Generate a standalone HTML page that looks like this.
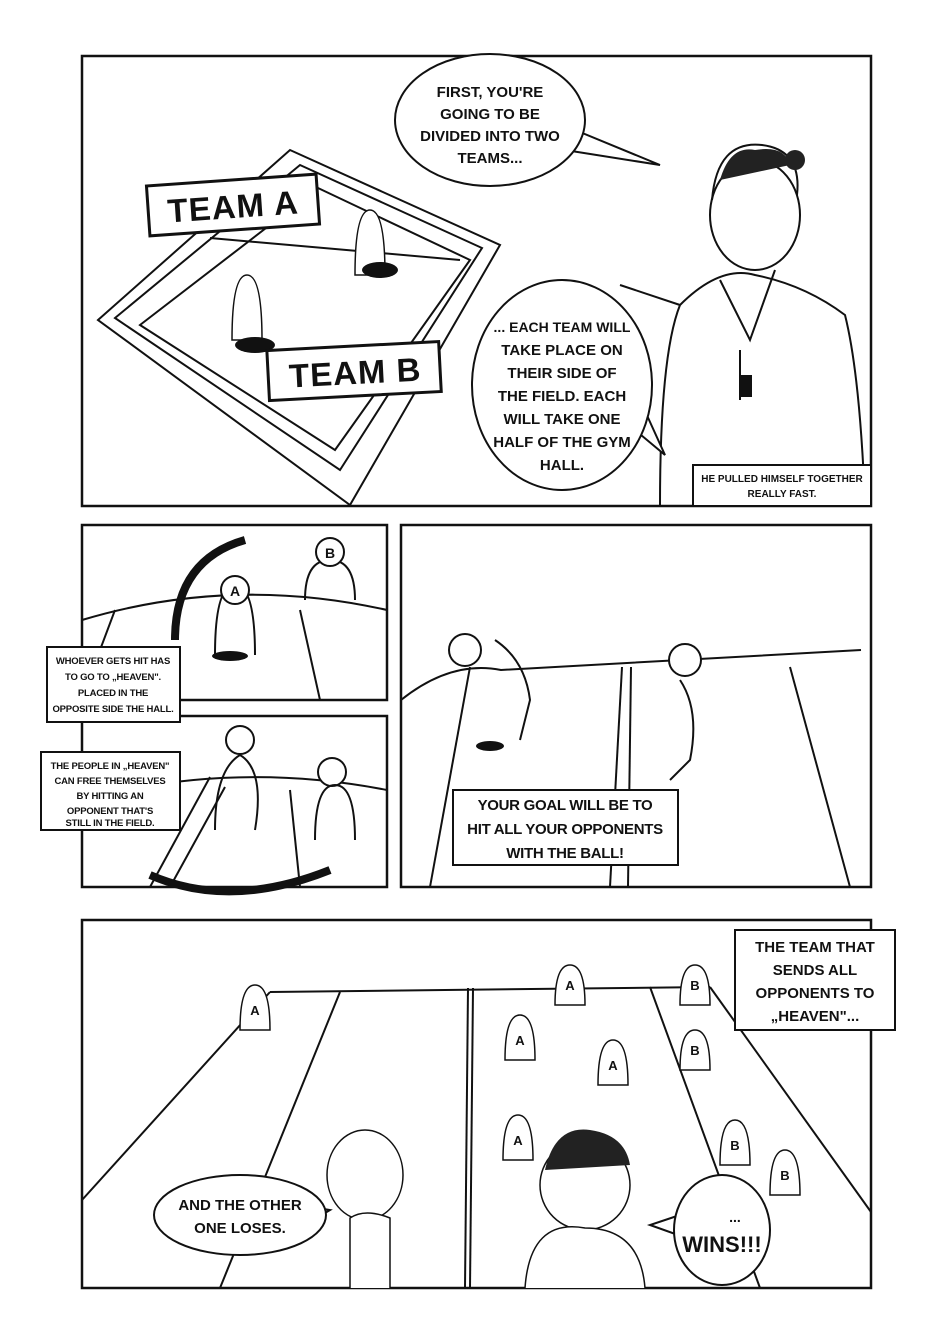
<!DOCTYPE html>
<html><head><meta charset="utf-8"><style>
html,body{margin:0;padding:0;background:#fff}
svg{display:block}
text{font-family:"Liberation Sans",sans-serif;font-weight:bold;fill:#111}
</style></head><body>
<svg width="940" height="1330" viewBox="0 0 940 1330" xmlns="http://www.w3.org/2000/svg">
<rect width="940" height="1330" fill="#fff"/>
<g fill="none" stroke="#111" stroke-width="2.5">
<rect x="82" y="56" width="789" height="450"/>
<rect x="82" y="525" width="305" height="175"/>
<rect x="82" y="716" width="305" height="171"/>
<rect x="401" y="525" width="470" height="362"/>
<rect x="82" y="920" width="789" height="368"/>
</g>
<!-- Panel 1 court -->
<g fill="none" stroke="#111" stroke-width="2">
<polygon points="98,320 290,150 500,245 350,505"/>
<polygon points="115,318 300,165 482,248 340,470"/>
<polygon points="140,325 318,188 470,260 335,450"/>
<line x1="210" y1="238" x2="460" y2="260"/>
</g>
<g fill="#fff" stroke="#111" stroke-width="1.5">
<path d="M355,275 q0,-65 15,-65 q15,0 15,65 z"/>
<path d="M232,340 q0,-65 15,-65 q15,0 15,65 z"/>
</g>
<ellipse cx="380" cy="270" rx="18" ry="8" fill="#111"/>
<ellipse cx="255" cy="345" rx="20" ry="8" fill="#111"/>
<g transform="rotate(-4 233 205)">
<rect x="148" y="180" width="170" height="50" fill="#fff" stroke="#111" stroke-width="3"/>
<text x="233" y="218" font-size="33" text-anchor="middle" letter-spacing="1">TEAM A</text></g>
<g transform="rotate(-3 355 370)">
<rect x="268" y="346" width="172" height="50" fill="#fff" stroke="#111" stroke-width="3"/>
<text x="355" y="384" font-size="33" text-anchor="middle" letter-spacing="1">TEAM B</text></g>
<!-- teacher -->
<g fill="none" stroke="#111" stroke-width="2">
<ellipse cx="755" cy="215" rx="45" ry="55" fill="#fff"/>
<path d="M712,200 q5,-60 50,-55 q40,5 35,50"/>
<path d="M660,505 q0,-150 20,-200 q40,-40 75,-30 q50,10 90,40 q15,60 20,190"/>
<path d="M720,280 l30,60 l25,-70"/>
<path d="M740,400 l0,-50"/>
<path d="M680,305 l-60,-20"/>
</g>
<rect x="740" y="375" width="12" height="22" fill="#111"/>
<path d="M720,180 q10,-35 35,-30 q30,-5 35,15 z" fill="#222"/>
<circle cx="795" cy="160" r="10" fill="#222"/>
<!-- bubbles -->
<g fill="#fff" stroke="#111" stroke-width="2">
<path d="M565,150 L660,165 L575,130 z"/>
<ellipse cx="490" cy="120" rx="95" ry="66"/>
<path d="M635,430 L665,455 L640,400 z"/>
<ellipse cx="562" cy="385" rx="90" ry="105"/>
</g>
<g font-size="15" text-anchor="middle">
<text x="490" y="97">FIRST, YOU'RE</text>
<text x="490" y="119">GOING TO BE</text>
<text x="490" y="141">DIVIDED INTO TWO</text>
<text x="490" y="163">TEAMS...</text>
<text x="562" y="332" font-size="14">... EACH TEAM WILL</text>
<text x="562" y="355">TAKE PLACE ON</text>
<text x="562" y="378">THEIR SIDE OF</text>
<text x="562" y="401">THE FIELD.  EACH</text>
<text x="562" y="424">WILL TAKE ONE</text>
<text x="562" y="447">HALF OF THE GYM</text>
<text x="562" y="470">HALL.</text>
</g>
<rect x="693" y="465" width="178" height="41" fill="#fff" stroke="#111" stroke-width="2"/>
<text x="782" y="482" font-size="10" text-anchor="middle">HE PULLED HIMSELF TOGETHER</text>
<text x="782" y="497" font-size="10" text-anchor="middle">REALLY FAST.</text>
<!-- Panel 2a -->
<g fill="none" stroke="#111" stroke-width="2">
<path d="M82,620 q150,-45 305,-10"/>
<path d="M100,650 l15,-40"/><path d="M300,610 l20,90"/>
<path d="M215,655 q0,-70 20,-70 q20,0 20,70"/>
<path d="M305,600 q0,-40 25,-40 q25,0 25,40"/>
<circle cx="235" cy="590" r="14" fill="#fff"/><circle cx="330" cy="552" r="14" fill="#fff"/>
</g>
<path d="M175,640 q0,-80 70,-100" fill="none" stroke="#111" stroke-width="8"/>
<text x="235" y="596" font-size="14" text-anchor="middle">A</text>
<text x="330" y="558" font-size="14" text-anchor="middle">B</text>
<ellipse cx="230" cy="656" rx="18" ry="5" fill="#111"/>
<rect x="47" y="647" width="133" height="75" fill="#fff" stroke="#111" stroke-width="2"/>
<g font-size="9.5" text-anchor="middle" letter-spacing="-0.2"><text x="113" y="664">WHOEVER GETS HIT HAS</text><text x="113" y="680">TO GO TO „HEAVEN".</text><text x="113" y="696">PLACED IN THE</text><text x="113" y="712">OPPOSITE SIDE THE HALL.</text></g>
<!-- Panel 2b -->
<g fill="none" stroke="#111" stroke-width="2">
<path d="M82,800 q150,-40 305,-10"/>
<path d="M150,887 l60,-110"/><path d="M170,887 l55,-100"/><path d="M290,790 l10,97"/>
<circle cx="240" cy="740" r="14" fill="#fff"/><circle cx="332" cy="772" r="14" fill="#fff"/>
<path d="M215,830 q0,-60 25,-75 q25,15 15,75"/>
<path d="M315,840 q0,-55 20,-55 q20,0 20,55"/>
</g>
<path d="M150,875 q80,35 180,-5" fill="none" stroke="#111" stroke-width="8"/>
<rect x="41" y="752" width="139" height="78" fill="#fff" stroke="#111" stroke-width="2"/>
<g font-size="9.5" text-anchor="middle" letter-spacing="-0.2"><text x="110" y="769">THE PEOPLE IN „HEAVEN"</text><text x="110" y="784">CAN FREE THEMSELVES</text><text x="110" y="799">BY HITTING AN</text><text x="110" y="814">OPPONENT THAT'S</text><text x="110" y="826">STILL IN THE FIELD.</text></g>
<!-- Panel 3 -->
<g fill="none" stroke="#111" stroke-width="2">
<path d="M401,700 q50,-40 100,-30 l360,-20"/>
<path d="M430,887 l40,-220"/><path d="M610,887 l12,-220"/><path d="M628,887 l3,-220"/>
<path d="M790,667 l60,220"/>
<circle cx="465" cy="650" r="16" fill="#fff"/><circle cx="685" cy="660" r="16" fill="#fff"/>
<path d="M495,640 q30,20 35,60 l-10,40"/><path d="M680,680 q20,30 10,80 l-20,20"/>
</g>
<ellipse cx="490" cy="746" rx="14" ry="5" fill="#111"/>
<rect x="453" y="790" width="225" height="75" fill="#fff" stroke="#111" stroke-width="2"/>
<g font-size="15" text-anchor="middle" letter-spacing="-0.3"><text x="565" y="810">YOUR GOAL WILL BE TO</text><text x="565" y="834">HIT ALL YOUR OPPONENTS</text><text x="565" y="858">WITH THE BALL!</text></g>
<!-- Panel 4 -->
<g fill="none" stroke="#111" stroke-width="2">
<path d="M270,992 l440,-5"/>
<path d="M82,1200 l188,-208"/><path d="M710,987 l161,225"/>
<path d="M220,1288 l120,-296"/><path d="M465,1288 l3,-300"/><path d="M470,1288 l3,-300"/>
<path d="M650,987 l110,301"/>
</g>
<g fill="#fff" stroke="#111" stroke-width="1.5">
<path d="M240,1030 q0,-45 15,-45 q15,0 15,45 z"/>
<path d="M555,1005 q0,-40 15,-40 q15,0 15,40 z"/>
<path d="M505,1060 q0,-45 15,-45 q15,0 15,45 z"/>
<path d="M598,1085 q0,-45 15,-45 q15,0 15,45 z"/>
<path d="M503,1160 q0,-45 15,-45 q15,0 15,45 z"/>
<path d="M680,1005 q0,-40 15,-40 q15,0 15,40 z"/>
<path d="M680,1070 q0,-40 15,-40 q15,0 15,40 z"/>
<path d="M720,1165 q0,-45 15,-45 q15,0 15,45 z"/>
<path d="M770,1195 q0,-45 15,-45 q15,0 15,45 z"/>
<ellipse cx="365" cy="1175" rx="38" ry="45"/>
<path d="M350,1288 l0,-70 q15,-10 40,0 l0,70"/>
<ellipse cx="585" cy="1185" rx="45" ry="45"/>
<path d="M525,1288 q5,-70 60,-60 q55,0 60,60"/>
</g>
<path d="M545,1170 q10,-45 45,-40 q35,5 40,35 z" fill="#222"/>
<g font-size="13" text-anchor="middle"><text x="255" y="1015">A</text><text x="570" y="990">A</text><text x="520" y="1045">A</text><text x="613" y="1070">A</text><text x="518" y="1145">A</text><text x="695" y="990">B</text><text x="695" y="1055">B</text><text x="735" y="1150">B</text><text x="785" y="1180">B</text></g>
<rect x="735" y="930" width="160" height="100" fill="#fff" stroke="#111" stroke-width="2"/>
<g font-size="15" text-anchor="middle"><text x="815" y="952">THE TEAM THAT</text><text x="815" y="975">SENDS ALL</text><text x="815" y="998">OPPONENTS TO</text><text x="815" y="1021">„HEAVEN"...</text></g>
<g fill="#fff" stroke="#111" stroke-width="2">
<path d="M300,1205 L330,1210 L305,1225 z"/>
<ellipse cx="240" cy="1215" rx="86" ry="40"/>
<path d="M680,1215 L650,1225 L678,1235 z"/>
<ellipse cx="722" cy="1230" rx="48" ry="55"/>
</g>
<g font-size="15" text-anchor="middle"><text x="240" y="1210">AND THE OTHER</text><text x="240" y="1233">ONE LOSES.</text></g>
<text x="735" y="1222" font-size="14" text-anchor="middle">...</text>
<text x="722" y="1252" font-size="22" text-anchor="middle">WINS!!!</text>
</svg>
</body></html>
